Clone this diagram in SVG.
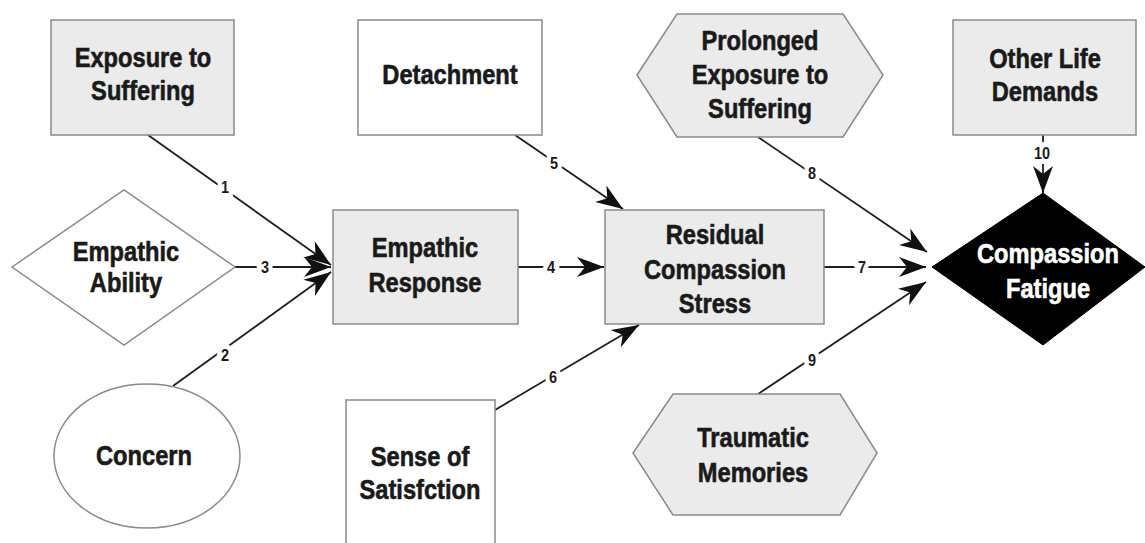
<svg xmlns="http://www.w3.org/2000/svg" width="1145" height="543" viewBox="0 0 1145 543">
<style>
.shape{stroke:#8a8a8a;stroke-width:1.5}
.gray{fill:#ebebeb}
.white{fill:#ffffff}
.t{font-family:"Liberation Sans",Arial,sans-serif;font-weight:bold;font-size:28px;fill:#1a1a1a;stroke:#1a1a1a;stroke-width:0.6;text-anchor:middle}
.tw{fill:#ffffff;stroke:#ffffff}
.ln{stroke:#1e1e1e;stroke-width:1.8;fill:none}
.lbl{font-family:"Liberation Sans",Arial,sans-serif;font-weight:bold;font-size:17px;fill:#1a1a1a;text-anchor:middle;dominant-baseline:central;stroke:#ffffff;stroke-width:10;paint-order:stroke}
</style>
<defs>
<marker id="arr" markerUnits="userSpaceOnUse" markerWidth="28" markerHeight="20" refX="27" refY="10" orient="auto">
<path d="M0,0 L27,10 L0,20 L8,10 z" fill="#111"/>
</marker>
</defs>
<rect width="1145" height="543" fill="#ffffff"/>
<g id="connectors">
<line class="ln" x1="148" y1="135" x2="331" y2="265" marker-end="url(#arr)"/>
<line class="ln" x1="235" y1="267" x2="331" y2="267" marker-end="url(#arr)"/>
<line class="ln" x1="173" y1="386" x2="331" y2="272" marker-end="url(#arr)"/>
<line class="ln" x1="518" y1="267" x2="604" y2="267" marker-end="url(#arr)"/>
<line class="ln" x1="515" y1="135" x2="623" y2="209" marker-end="url(#arr)"/>
<line class="ln" x1="495" y1="410" x2="639" y2="325" marker-end="url(#arr)"/>
<line class="ln" x1="824" y1="267" x2="926" y2="267" marker-end="url(#arr)"/>
<line class="ln" x1="758" y1="137" x2="927" y2="252" marker-end="url(#arr)"/>
<line class="ln" x1="758" y1="394" x2="926" y2="282" marker-end="url(#arr)"/>
<line class="ln" x1="1043" y1="135" x2="1043" y2="193" marker-end="url(#arr)"/>
<text class="lbl" transform="translate(225,187) scale(0.85,1)">1</text>
<text class="lbl" transform="translate(225,355) scale(0.85,1)">2</text>
<text class="lbl" transform="translate(265,267) scale(0.85,1)">3</text>
<text class="lbl" transform="translate(551,267) scale(0.85,1)">4</text>
<text class="lbl" transform="translate(554,163) scale(0.85,1)">5</text>
<text class="lbl" transform="translate(553,377) scale(0.85,1)">6</text>
<text class="lbl" transform="translate(862,267) scale(0.85,1)">7</text>
<text class="lbl" transform="translate(812,173) scale(0.85,1)">8</text>
<text class="lbl" transform="translate(812,360) scale(0.85,1)">9</text>
<text class="lbl" transform="translate(1042,153) scale(0.85,1)">10</text>
</g>
<g id="exposure">
<rect class="shape gray" x="51" y="20" width="183" height="115"/>
<text class="t" transform="translate(143,67) scale(0.845,1)">Exposure to</text>
<text class="t" transform="translate(143,100) scale(0.845,1)">Suffering</text>
</g>
<g id="empathic-ability">
<polygon class="shape white" points="12,267 124,190 235,267 124,345"/>
<text class="t" transform="translate(126,261) scale(0.845,1)">Empathic</text>
<text class="t" transform="translate(126,292) scale(0.845,1)">Ability</text>
</g>
<g id="concern">
<ellipse class="shape white" cx="147" cy="456" rx="93" ry="72"/>
<text class="t" transform="translate(144,465) scale(0.845,1)">Concern</text>
</g>
<g id="detachment">
<rect class="shape white" x="358" y="20" width="184" height="115"/>
<text class="t" transform="translate(450,84) scale(0.845,1)">Detachment</text>
</g>
<g id="empathic-response">
<rect class="shape gray" x="333" y="210" width="185" height="114"/>
<text class="t" transform="translate(425,257) scale(0.845,1)">Empathic</text>
<text class="t" transform="translate(425,292) scale(0.845,1)">Response</text>
</g>
<g id="sense">
<path class="shape white" d="M346,545 L346,400 L495,400 L495,545"/>
<text class="t" transform="translate(420,466) scale(0.845,1)">Sense of</text>
<text class="t" transform="translate(420,499) scale(0.845,1)">Satisfction</text>
</g>
<g id="residual">
<rect class="shape gray" x="605" y="210" width="219" height="114"/>
<text class="t" transform="translate(715,244) scale(0.845,1)">Residual</text>
<text class="t" transform="translate(715,279) scale(0.845,1)">Compassion</text>
<text class="t" transform="translate(715,313) scale(0.845,1)">Stress</text>
</g>
<g id="prolonged">
<polygon class="shape gray" points="637,75 677,14 843,14 883,75 843,137 677,137"/>
<text class="t" transform="translate(760,50) scale(0.845,1)">Prolonged</text>
<text class="t" transform="translate(760,84) scale(0.845,1)">Exposure to</text>
<text class="t" transform="translate(760,118) scale(0.845,1)">Suffering</text>
</g>
<g id="other-life">
<rect class="shape gray" x="953" y="20" width="183" height="115"/>
<text class="t" transform="translate(1045,68) scale(0.845,1)">Other Life</text>
<text class="t" transform="translate(1045,101) scale(0.845,1)">Demands</text>
</g>
<g id="traumatic">
<polygon class="shape gray" points="633,453 673,394 840,394 877,453 840,515 673,515"/>
<text class="t" transform="translate(753,447) scale(0.845,1)">Traumatic</text>
<text class="t" transform="translate(753,482) scale(0.845,1)">Memories</text>
</g>
<g id="compassion-fatigue">
<polygon fill="#000000" stroke="#000" stroke-width="1" points="932,267 1043,193 1145,267 1043,345"/>
<text class="t tw" transform="translate(1048,263) scale(0.845,1)">Compassion</text>
<text class="t tw" transform="translate(1048,298) scale(0.845,1)">Fatigue</text>
</g>
</svg>
